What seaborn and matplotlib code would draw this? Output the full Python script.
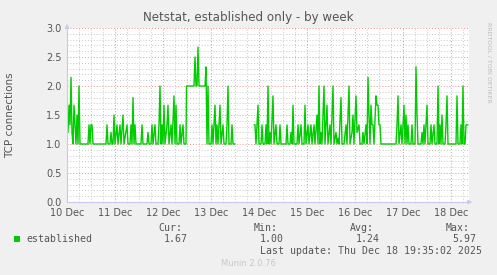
import numpy as np
import pandas as pd
import matplotlib
matplotlib.use("Agg")
import matplotlib.pyplot as plt
from matplotlib.ticker import MultipleLocator, FixedLocator
import seaborn as sns

# ---------------- data ----------------
# sample index = number of 30-minute steps since 10 Dec 00:00
slots = [0, 1, 2, 3, 4, 5, 6, 7, 8, 9, 10, 11, 12, 13, 21, 22, 23, 24, 25, 26, 39, 40, 41, 43, 44, 45, 46, 47,
         48, 50, 51, 53, 54, 56, 57, 60, 61, 63, 64, 65, 66, 67, 68, 69, 74, 75, 76, 80, 81, 82, 84, 85, 86, 88,
         89, 91, 92, 93, 94, 95, 96, 97, 98, 100, 101, 102, 104, 105, 107, 108, 109, 110, 112, 113, 114, 116, 117,
         119, 119.5, 127, 128, 129, 130, 131, 132, 138, 139, 140, 141, 142, 144, 145, 146, 148, 149, 150, 151,
         153, 154, 156, 157, 159, 160, 161, 162, 164, 165, 166, 168, 169,
         187, 188, 189, 191, 192, 194, 195, 196, 198, 199, 200, 201, 202, 203, 204, 206, 207, 209, 210, 212,
         213, 214, 219, 220, 221, 223, 224, 225, 226, 227, 230, 231, 232, 234, 235, 237, 238, 239, 241, 242,
         244, 245, 247, 248, 250, 251, 252, 253, 254, 255, 257, 258, 260, 261, 263, 264, 266, 267, 269, 270,
         271, 272, 274, 275, 277, 279, 280, 282, 283, 285, 286, 287, 289, 290, 292, 293, 295, 296, 297, 299,
         300, 301, 302, 303, 304, 305, 306, 307, 309, 310, 311, 312, 313, 314, 329, 330, 331, 332, 334, 335,
         337, 338, 339, 340, 341, 342, 344, 345, 346, 348, 349, 350, 351, 354, 355, 356, 357, 358, 360, 361,
         363, 364, 365, 367, 368, 370, 371, 372, 373, 374, 375, 376, 378, 379, 380, 381, 389, 390, 391, 393,
         394, 395, 396, 397, 398, 399, 400, 401]
connections = [1.6, 1.2, 1.67, 1.33, 2.15, 1.2, 1.0, 1.67, 1.33, 1.0, 1.5, 1.0, 2.0, 1.0, 1.0, 1.33, 1.0, 1.33,
               1.33, 1.0, 1.0, 1.33, 1.0, 1.0, 1.2, 1.0, 1.0, 1.5, 1.0, 1.33, 1.0, 1.33, 1.0, 1.5, 1.0, 1.33, 1.0,
               1.0, 1.33, 1.0, 1.8, 1.0, 1.33, 1.0, 1.0, 1.33, 1.0, 1.0, 1.2, 1.0, 1.0, 1.33, 1.0, 1.33, 1.0, 1.0,
               1.33, 2.0, 1.0, 1.33, 1.0, 1.67, 1.0, 1.33, 1.67, 1.0, 1.33, 1.0, 1.83, 1.0, 1.67, 1.0, 1.0, 1.33,
               1.0, 1.33, 1.0, 1.0, 2.0, 2.0, 2.5, 2.0, 2.0, 2.67, 2.0, 2.0, 2.33, 1.0, 2.0, 1.0, 1.0, 1.33, 1.0,
               1.67, 1.0, 1.33, 1.0, 1.67, 1.0, 1.33, 1.0, 1.0, 1.33, 2.0, 1.0, 1.0, 1.33, 1.0, 1.0, np.nan,
               1.33, 1.33, 1.0, 1.67, 1.0, 1.0, 1.33, 1.0, 1.0, 1.33, 1.0, 2.0, 1.0, 1.2, 1.0, 1.83, 1.0, 1.33,
               1.0, 1.0, 1.33, 1.0, 1.0, 1.33, 1.0, 1.0, 1.2, 1.0, 1.67, 1.0, 1.0, 1.33, 1.0, 1.33, 1.0, 1.0, 1.67,
               1.0, 1.33, 1.0, 1.33, 1.0, 1.33, 1.0, 1.5, 1.0, 2.0, 1.0, 1.2, 1.0, 2.0, 1.0, 1.67, 1.0, 1.33, 1.0,
               2.0, 1.0, 1.2, 1.0, 1.1, 1.0, 1.8, 1.0, 1.0, 1.33, 1.0, 2.0, 1.0, 1.2, 1.5, 1.0, 1.83, 1.2, 1.33,
               1.0, 1.0, 1.2, 1.0, 1.33, 1.0, 2.15, 1.5, 1.0, 1.67, 1.33, 1.33, 1.0, 1.83, 1.67, 1.67, 1.33, 1.33,
               1.0, 1.0, 1.33, 1.83, 1.0, 1.33, 1.0, 1.67, 1.0, 1.5, 1.0, 1.33, 1.0, 1.0, 1.33, 1.0, 1.0, 2.33,
               1.5, 1.0, 1.0, 1.2, 1.0, 1.33, 1.0, 1.67, 1.0, 1.0, 1.33, 1.0, 1.33, 1.0, 1.0, 2.0, 1.0, 1.33, 1.0,
               1.5, 1.0, 1.0, 1.33, 1.83, 1.0, 1.0, 1.83, 1.0, 1.0, 1.33, 1.0, 2.0, 1.0, 1.0, 1.33, 1.33, 1.33]
day_labels = ["10 Dec", "11 Dec", "12 Dec", "13 Dec", "14 Dec", "15 Dec", "16 Dec", "17 Dec", "18 Dec"]
y_ticks = [0.0, 0.5, 1.0, 1.5, 2.0, 2.5, 3.0]
legend_stats = {"Cur:": "1.67", "Min:": "1.00", "Avg:": "1.24", "Max:": "5.97"}
series_name = "established"
title = "Netstat, established only - by week"
ylabel = "TCP connections"
last_update = "Last update: Thu Dec 18 19:35:02 2025"

# ---------------- figure ----------------
W, H = 497, 275
sns.set_style("white")
plt.rcParams["font.family"] = ["DejaVu Sans"]
fig = plt.figure(figsize=(W / 100, H / 100), dpi=100, facecolor="#F0F0F0")
ax = fig.add_axes([67 / W, 1 - 202 / H, 402 / W, 174 / H])
ax.set_facecolor("white")

df = pd.DataFrame({"slot": slots, "val": connections})
df["hours"] = df["slot"] / 2.0
df["seg"] = df["val"].isna().cumsum()
df = df.dropna()

green = "#00CC00"
sns.lineplot(data=df, x="hours", y="val", units="seg", estimator=None,
             color=green, linewidth=1.0, ax=ax, legend=False)

ax.set_xlim(0, 201)
ax.set_ylim(0, 3.0)
ax.xaxis.set_major_locator(FixedLocator([24 * i for i in range(len(day_labels))]))
ax.set_xticklabels(day_labels)
ax.xaxis.set_minor_locator(MultipleLocator(6))
ax.yaxis.set_major_locator(FixedLocator(y_ticks))
ax.set_yticklabels([f"{v:.1f}" for v in y_ticks])
ax.yaxis.set_minor_locator(MultipleLocator(0.1))

ax.grid(which="minor", color="#C8C8C8", linestyle=(0, (1, 2)), linewidth=0.7)
ax.grid(which="major", color="#E89090", linestyle=(0, (1, 2)), linewidth=0.7)
ax.set_axisbelow(True)

for s in ["top", "right"]:
    ax.spines[s].set_visible(False)
for s in ["left", "bottom"]:
    ax.spines[s].set_color("#C8C8F0")
    ax.spines[s].set_linewidth(0.8)

ax.tick_params(which="both", length=0, colors="#555555", labelsize=7)
ax.tick_params(axis="y", pad=4)
ax.tick_params(axis="x", pad=4)
ax.set_xlabel("")
ax.set_ylabel(ylabel, fontsize=7.5, color="#555555")
ax.yaxis.set_label_coords(-0.128, 0.5)

# axis arrows
ax.annotate("", xy=(0, 1.04), xytext=(0, 0.99), xycoords="axes fraction",
            arrowprops=dict(arrowstyle="-|>", color="#C8C8F0", lw=0.8, mutation_scale=6),
            annotation_clip=False)
ax.annotate("", xy=(1.015, 0), xytext=(0.99, 0), xycoords="axes fraction",
            arrowprops=dict(arrowstyle="-|>", color="#C8C8F0", lw=0.8, mutation_scale=6),
            annotation_clip=False)

def ftext(x, y, s, **kw):
    fig.text(x / W, 1 - y / H, s, **kw)

ftext(248, 17, title, ha="center", va="center", fontsize=8.6, color="#555555")
ftext(489, 22, "RRDTOOL / TOBI OETIKER", ha="center", va="top", rotation=270,
      fontsize=4.5, color="#BBBBBB")

mono = dict(family="DejaVu Sans Mono", fontsize=7.1, color="#555555", va="center")
# legend swatch
fig.patches.append(plt.Rectangle((14 / W, 1 - 242 / H), 6 / W, 6 / H, transform=fig.transFigure,
                                 facecolor=green, edgecolor="none"))
ftext(26, 239.5, series_name, ha="left", **mono)
stat_x = [182, 278, 374, 470]
for (k, v), xr in zip(legend_stats.items(), stat_x):
    ftext(xr, 228, k, ha="right", **mono)
    ftext(xr + 6, 239.5, v, ha="right", **mono)
ftext(482, 251, last_update, ha="right", **mono)
ftext(248, 264, "Munin 2.0.76", ha="center", va="center", fontsize=6, color="#C8C8C8")

fig.savefig("out.png", dpi=100, facecolor=fig.get_facecolor())
